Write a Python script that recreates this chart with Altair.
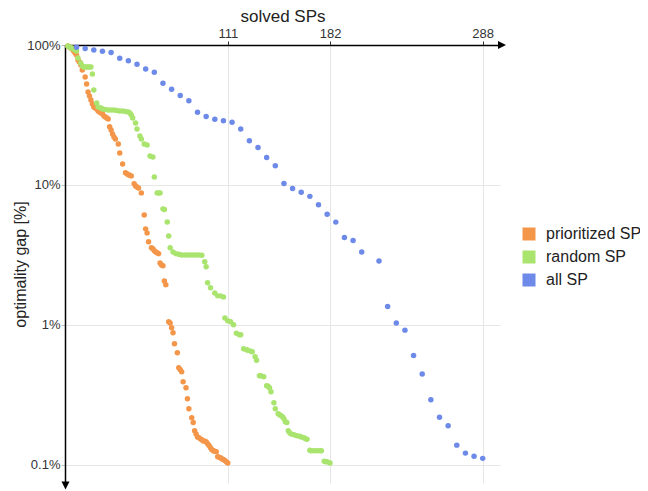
import altair as alt
import pandas as pd

series_names = ["prioritized SP", "random SP", "all SP"]
series_colors = ["#F4964A", "#A9E46F", "#6D8AE8"]

prio_x = [0, 1, 2, 3, 4, 5, 6, 7, 8, 9, 10, 12, 13, 14, 15, 16, 17, 18, 19, 20,
          21, 22, 23, 24, 25, 26, 27, 28, 29, 30, 31, 32, 33, 35, 36, 38, 40, 41, 42, 43,
          44, 46, 47, 48, 49, 51, 53, 54, 55, 56, 58, 59, 60, 61, 62, 63, 64, 65, 66, 67,
          68, 70, 71, 72, 73, 74, 76, 77, 78, 79, 80, 82, 83, 84, 86, 87, 88, 89, 90, 91,
          92, 93, 94, 95, 96, 97, 98, 99, 100, 101, 102, 103, 104, 105, 106, 107, 108, 109, 110, 111]
prio_gap = [98.4, 96.8, 95.2, 93.6, 90.6, 87.7, 84.8, 78.2, 75.6, 71.9, 66.3, 59.1, 52.6, 46.2, 43.2, 40.5, 37.9, 36.1, 35.5, 34.9,
            33.8, 33.2, 32.7, 32.2, 31.1, 30.6, 30.1, 29.6, 26.0, 24.7, 23.1, 22.0, 21.3, 19.6, 16.9, 14.1, 12.2, 12.0, 11.8, 11.7,
            11.6, 10.2, 9.84, 9.68, 9.52, 8.77, 6.10, 4.85, 4.54, 3.92, 3.55, 3.49, 3.38, 3.32, 3.27, 3.22, 2.77, 2.68, 2.64, 2.06,
            1.93, 1.05, 1.03, 0.952, 0.877, 0.731, 0.631, 0.493, 0.477, 0.462, 0.392, 0.355, 0.296, 0.251, 0.217, 0.200, 0.175, 0.166, 0.158, 0.156,
            0.153, 0.151, 0.148, 0.147, 0.146, 0.141, 0.137, 0.132, 0.128, 0.126, 0.125, 0.124, 0.114, 0.113, 0.112, 0.110, 0.109, 0.107, 0.105, 0.103]

rand_x = [0, 1, 2, 3, 4, 5, 6, 7, 9, 10, 11, 12, 13, 14, 15, 16, 17, 18, 20, 21,
          23, 24, 26, 28, 30, 32, 34, 36, 38, 40, 42, 43, 44, 45, 47, 48, 50, 51, 53, 55,
          57, 59, 60, 62, 63, 64, 66, 67, 69, 70, 71, 73, 75, 77, 79, 81, 83, 85, 87, 89,
          91, 93, 95, 96, 97, 99, 102, 104, 106, 108, 109, 111, 113, 115, 117, 119, 120, 122, 124, 125,
          127, 128, 130, 131, 133, 134, 136, 138, 139, 140, 141, 143, 144, 146, 147, 148, 149, 150, 151, 152,
          153, 154, 155, 157, 159, 161, 162, 164, 165, 166, 168, 169, 171, 173, 175, 176, 178, 179, 180, 182]
rand_gap = [98.4, 96.8, 95.2, 95.2, 93.6, 92.1, 90.6, 80.8, 74.4, 70.8, 69.6, 69.6, 69.6, 69.6, 69.6, 69.6, 62.1, 47.7, 38.5, 36.1,
            35.5, 34.9, 34.6, 34.3, 34.3, 34.3, 34.0, 33.8, 33.8, 33.5, 33.2, 32.7, 31.6, 30.1, 27.7, 25.1, 22.4, 21.3, 19.6, 19.3,
            16.1, 15.8, 11.4, 8.77, 8.77, 8.77, 6.74, 6.68, 5.44, 4.32, 3.55, 3.32, 3.22, 3.19, 3.16, 3.16, 3.16, 3.16, 3.16, 3.16,
            3.16, 3.14, 2.82, 2.60, 2.00, 1.84, 1.69, 1.61, 1.61, 1.58, 1.12, 1.07, 1.05, 1.00, 0.869, 0.849, 0.849, 0.674, 0.663, 0.658,
            0.647, 0.641, 0.591, 0.557, 0.432, 0.432, 0.425, 0.367, 0.364, 0.355, 0.332, 0.277, 0.251, 0.231, 0.228, 0.224, 0.220, 0.213, 0.203, 0.200,
            0.175, 0.169, 0.166, 0.164, 0.161, 0.160, 0.158, 0.156, 0.153, 0.152, 0.127, 0.126, 0.126, 0.126, 0.126, 0.126, 0.106, 0.105, 0.105, 0.103]

all_x = [6, 12, 18, 24, 30, 36, 42, 48, 54, 60, 66, 72, 78, 84, 90, 96, 102, 108, 114, 120,
         126, 132, 138, 144, 150, 156, 162, 168, 174, 180, 186, 192, 198, 204, 216, 222, 228, 234, 240, 246,
         252, 258, 264, 270, 276, 282, 288]
all_gap = [96.3, 94.4, 92.1, 90.3, 88.4, 80.5, 77.1, 72.9, 67.4, 63.8, 53.3, 48.3, 43.6, 40.0, 33.1, 30.8, 29.5, 28.7, 28.0, 25.1,
           20.7, 18.5, 15.7, 13.7, 10.25, 9.41, 8.87, 8.28, 7.20, 6.18, 5.42, 4.21, 4.01, 3.31, 2.86, 1.35, 1.03, 0.916, 0.604, 0.445,
           0.291, 0.218, 0.190, 0.138, 0.121, 0.115, 0.111]

x_ticks = [111, 182, 288]
y_ticks = [0.1, 1, 10, 100]

df = pd.concat([
    pd.DataFrame({"solved": prio_x, "gap": prio_gap, "method": series_names[0]}),
    pd.DataFrame({"solved": rand_x, "gap": rand_gap, "method": series_names[1]}),
    pd.DataFrame({"solved": all_x, "gap": all_gap, "method": series_names[2]}),
], ignore_index=True)

FONT = "Liberation Sans"
W, H = 435, 438

points = alt.Chart(df).mark_circle(size=30, opacity=1).encode(
    x=alt.X("solved:Q",
            scale=alt.Scale(domain=[-2, 300], nice=False, zero=False),
            axis=alt.Axis(orient="top", values=x_ticks, format="d", title="solved SPs",
                          grid=True, gridColor="#e6e6e6", domainColor="black", domainWidth=1.5,
                          tickColor="#333", tickSize=4, labelPadding=1, labelFontSize=13,
                          labelColor="#333", titleFontSize=17, titleFontWeight="normal",
                          titleColor="#222", titlePadding=2, labelFont=FONT, titleFont=FONT)),
    y=alt.Y("gap:Q",
            scale=alt.Scale(type="log", domain=[0.074, 100], nice=False),
            axis=alt.Axis(values=y_ticks, labelExpr="datum.value + '%'", title="optimality gap [%]",
                          grid=True, gridColor="#e6e6e6", domainColor="black", domainWidth=1.5,
                          tickColor="#bbb", tickSize=4, labelPadding=1, labelFontSize=13,
                          labelColor="#333", titleFontSize=16, titleFontWeight="normal",
                          titleColor="#222", titleX=-37, labelFont=FONT, titleFont=FONT)),
    color=alt.Color("method:N",
                    scale=alt.Scale(domain=series_names, range=series_colors),
                    sort=series_names,
                    legend=alt.Legend(title=None, orient="none", legendX=456, legendY=181,
                                      symbolType="square", symbolSize=169, symbolStrokeWidth=0,
                                      labelFontSize=16, labelFont=FONT, labelColor="#222",
                                      labelOffset=9, rowPadding=7, padding=0)),
)

arrow_src = pd.DataFrame({"k": [0]})
arrow_right = alt.Chart(arrow_src).mark_point(
    shape="M-1,-1L1,0L-1,1Z", filled=True, color="black", size=64, opacity=1
).encode(x=alt.value(437), y=alt.value(0))
arrow_down = alt.Chart(arrow_src).mark_point(
    shape="M-1,-1L1,-1L0,1Z", filled=True, color="black", size=64, opacity=1
).encode(x=alt.value(0.5), y=alt.value(440.5))

chart = alt.layer(points, arrow_right, arrow_down).properties(
    width=W, height=H,
    autosize=alt.AutoSizeParams(type="none"),
    padding={"left": 57, "top": 37, "right": 140, "bottom": 12},
).configure_view(stroke="transparent")

chart.save("out.html", embed_options={"renderer": "svg", "actions": False})
